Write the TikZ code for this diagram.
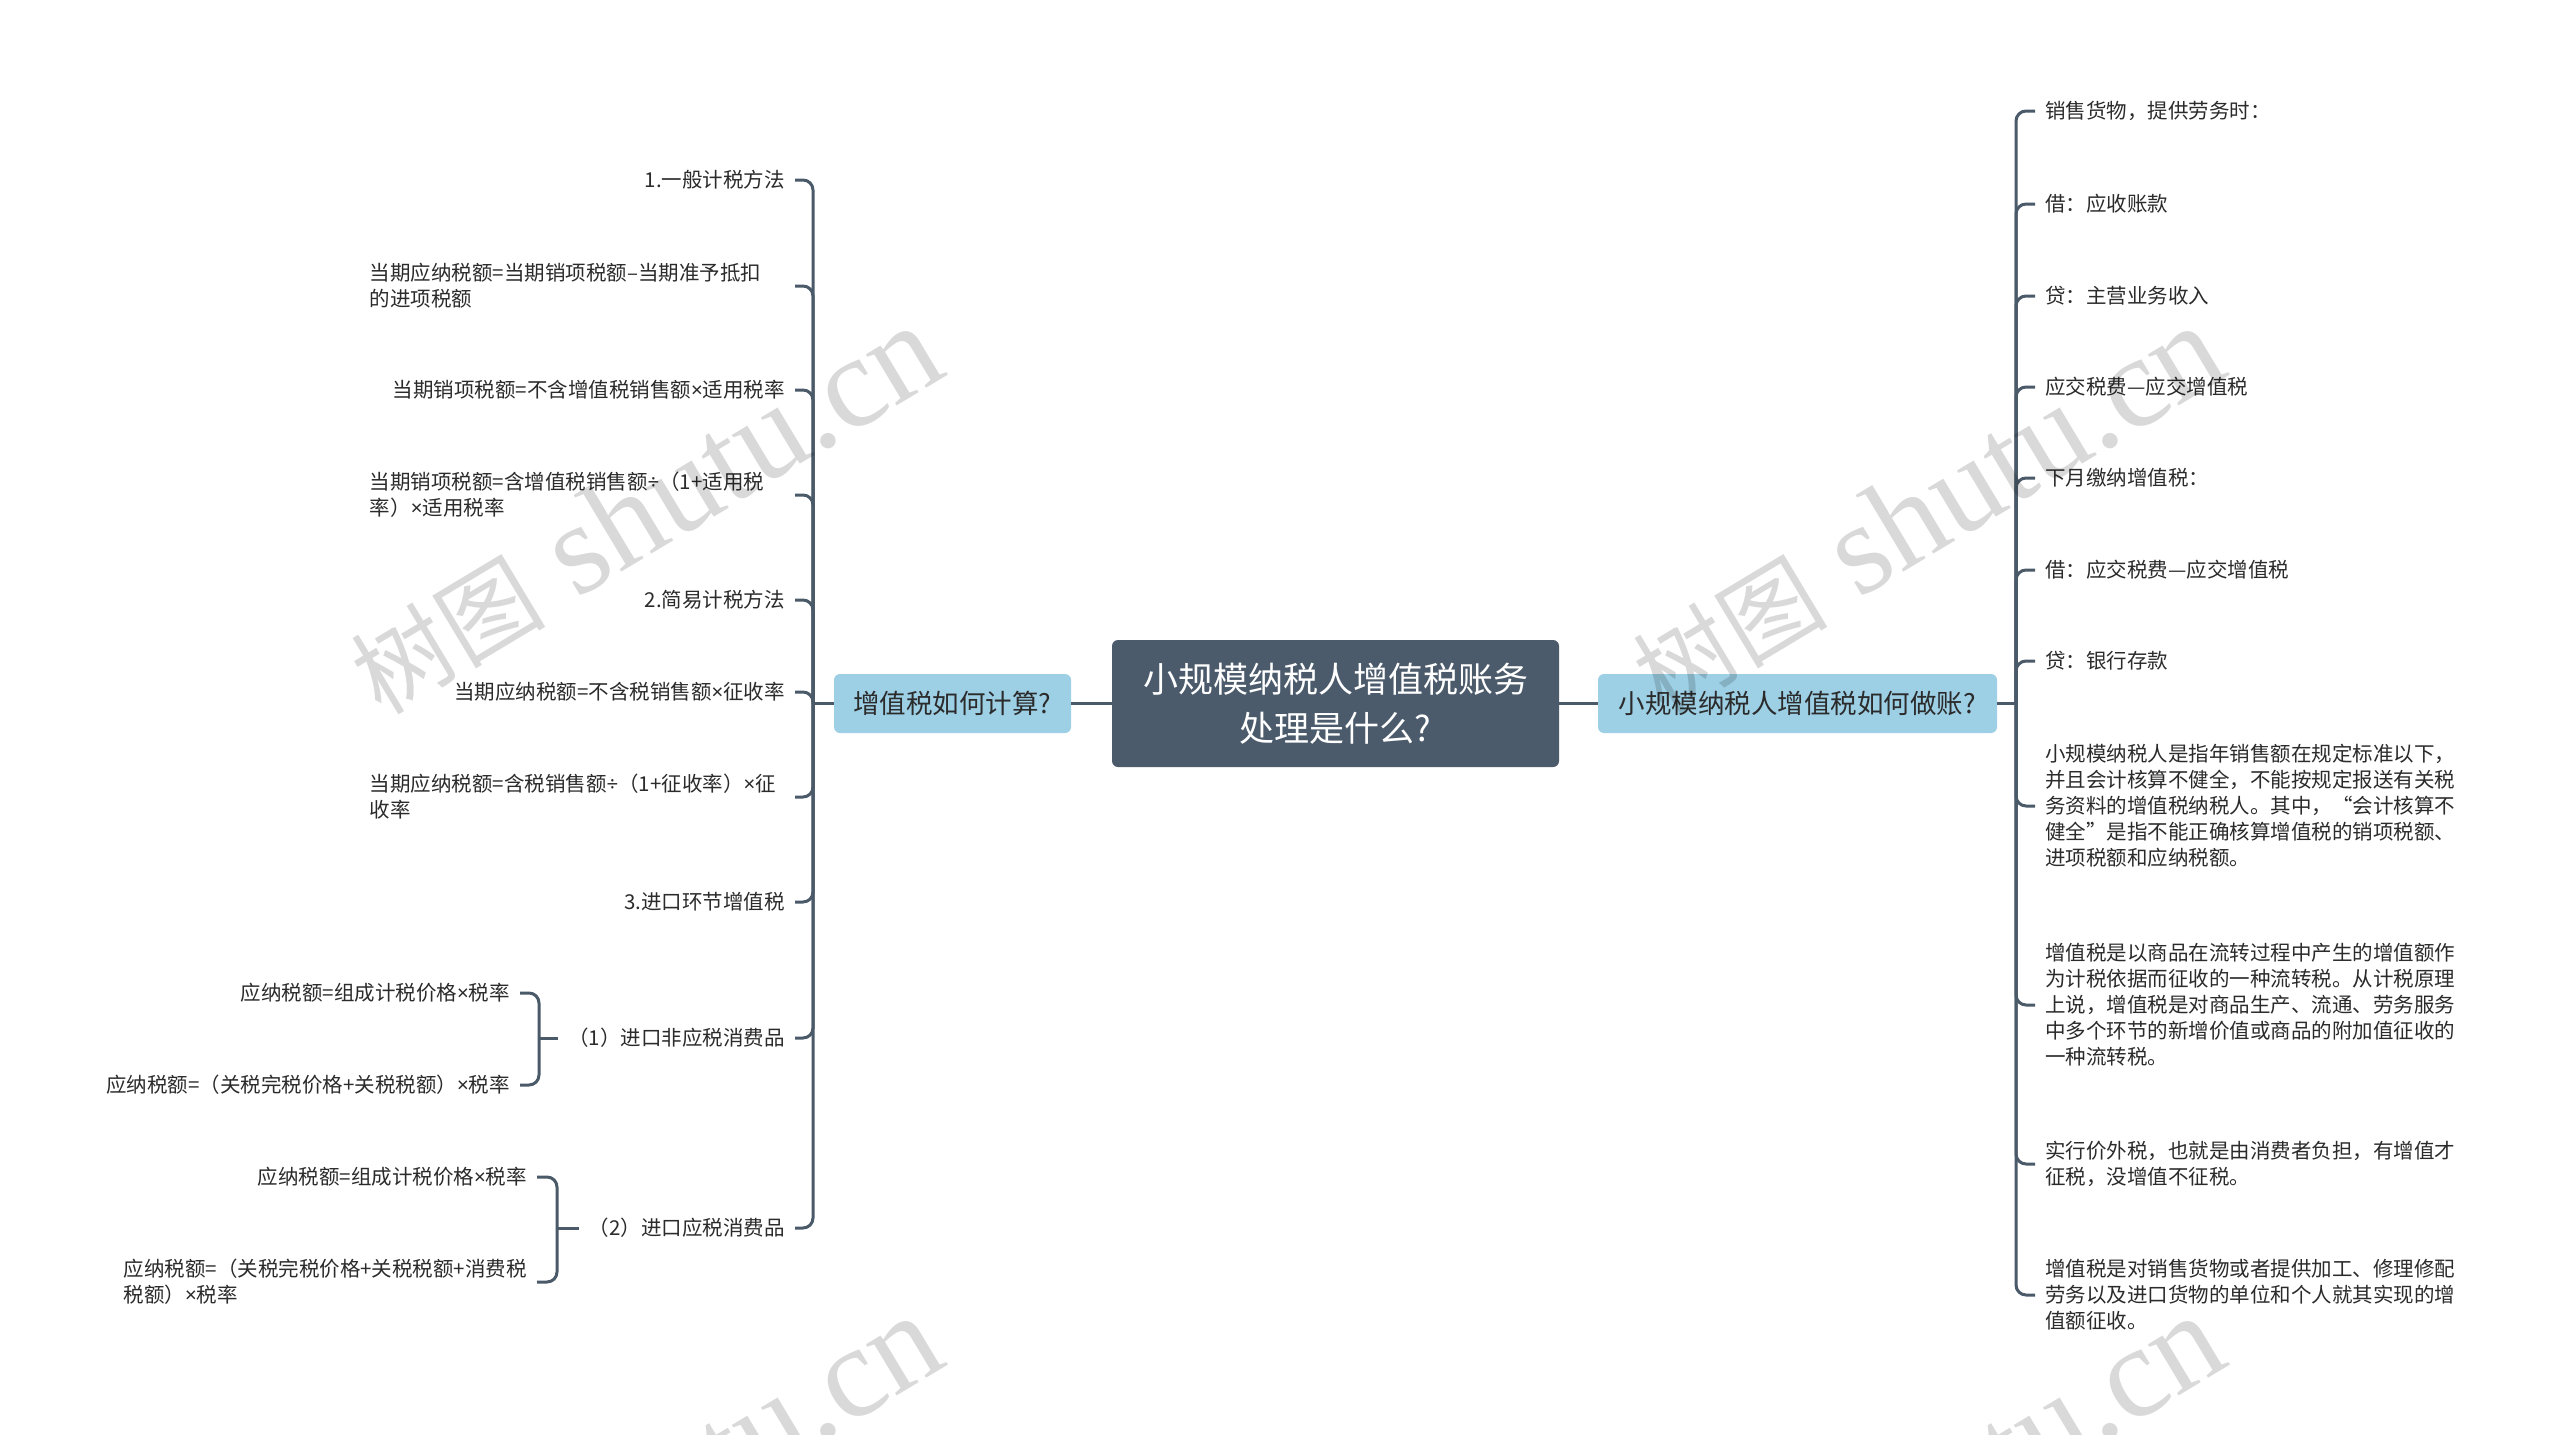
\documentclass[tikz,border=0pt]{standalone}
\usepackage{fontspec}
\setmainfont{Noto Sans CJK SC}
\newfontfamily\cjkwm{Noto Sans CJK SC}
\newfontfamily\wmserif{Liberation Serif}
\newfontfamily\latinf{Noto Sans}
\newcommand{\xmul}{{\latinf ×}}
\newcommand{\xdiv}{{\latinf ÷}}
\newcommand{\wmtext}{{\cjkwm\fontsize{97}{97}\selectfont 树图}{\wmserif\fontsize{130}{130}\selectfont\ shutu.cn}}
\definecolor{conncol}{HTML}{4B5A69}
\definecolor{maincol}{HTML}{4B5B6B}
\definecolor{lonecol}{HTML}{9DCFE5}
\definecolor{txtcol}{HTML}{2B2B2B}
\begin{document}
\begin{tikzpicture}[x=1pt,y=-1pt,
  conn/.style={draw=conncol,line width=3pt,rounded corners=10pt},
  mainbox/.style={fill=maincol,text=white,rounded corners=6pt,minimum width=447pt,minimum height=127pt,align=center,inner sep=0pt,font=\fontsize{35}{49}\selectfont},
  lone/.style={fill=lonecol,text=txtcol,rounded corners=6pt,minimum height=59pt,inner xsep=13pt,inner ysep=0pt,font=\fontsize{26.5}{32}\selectfont},
  leaf/.style={inner xsep=10pt,inner ysep=4pt,text=txtcol,font=\fontsize{20.5}{26}\selectfont},
  lleaf/.style={leaf,anchor=east,text width=415pt,align=right},
  lleafm/.style={leaf,anchor=east,text width=415pt,align=left},
  eleaf/.style={leaf,anchor=east,align=right},
  eleafm/.style={leaf,anchor=east,align=left},
  rleaf/.style={leaf,anchor=west,align=left},
  wm/.style={text=black,text opacity=0.15,inner sep=0pt}
]
\useasboundingbox (0,0) rectangle (2560,1435);
\fill[white] (0,0) rectangle (2560,1435);

% central and first-level nodes
\node[mainbox] (root) at (1335.5,703.5) {小规模纳税人增值税账务\\处理是什么?};
\node[lone,minimum width=237pt] (L) at (952.5,703.5) {增值税如何计算?};
\node[lone,minimum width=399pt] (R) at (1797.5,703.5) {小规模纳税人增值税如何做账?};

% left leaves
\node[lleaf] (l1) at (795,180) {1.一般计税方法};
\node[lleafm] (l2) at (795,286) {当期应纳税额=当期销项税额–当期准予抵扣\\的进项税额};
\node[lleaf] (l3) at (795,390) {当期销项税额=不含增值税销售额\xmul 适用税率};
\node[lleafm] (l4) at (795,495) {当期销项税额=含增值税销售额\xdiv（1+适用税\\率）\xmul 适用税率};
\node[lleaf] (l5) at (795,600) {2.简易计税方法};
\node[lleaf] (l6) at (795,692) {当期应纳税额=不含税销售额\xmul 征收率};
\node[lleafm] (l7) at (795,797) {当期应纳税额=含税销售额\xdiv（1+征收率）\xmul 征\\收率};
\node[lleaf] (l8) at (795,902) {3.进口环节增值税};
\node[eleaf] (l9) at (795,1038) {（1）进口非应税消费品};
\node[eleaf] (l10) at (795,1228) {（2）进口应税消费品};

% sub leaves
\node[eleaf] (a1) at (520,993) {应纳税额=组成计税价格\xmul 税率};
\node[eleaf] (a2) at (520,1085) {应纳税额=（关税完税价格+关税税额）\xmul 税率};
\node[eleaf] (b1) at (537,1177) {应纳税额=组成计税价格\xmul 税率};
\node[eleafm] (b2) at (537,1282) {应纳税额=（关税完税价格+关税税额+消费税\\税额）\xmul 税率};

% right leaves
\node[rleaf] (r1) at (2035,111) {销售货物，提供劳务时：};
\node[rleaf] (r2) at (2035,204) {借：应收账款};
\node[rleaf] (r3) at (2035,296) {贷：主营业务收入};
\node[rleaf] (r4) at (2035,387) {应交税费—应交增值税};
\node[rleaf] (r5) at (2035,478) {下月缴纳增值税：};
\node[rleaf] (r6) at (2035,570) {借：应交税费—应交增值税};
\node[rleaf] (r7) at (2035,661) {贷：银行存款};
\node[rleaf] (r8) at (2035,806) {小规模纳税人是指年销售额在规定标准以下，\\并且会计核算不健全，不能按规定报送有关税\\务资料的增值税纳税人。其中，“会计核算不\\健全”是指不能正确核算增值税的销项税额、\\进项税额和应纳税额。};
\node[rleaf] (r9) at (2035,1005) {增值税是以商品在流转过程中产生的增值额作\\为计税依据而征收的一种流转税。从计税原理\\上说，增值税是对商品生产、流通、劳务服务\\中多个环节的新增价值或商品的附加值征收的\\一种流转税。};
\node[rleaf] (r10) at (2035,1164) {实行价外税，也就是由消费者负担，有增值才\\征税，没增值不征税。};
\node[rleaf] (r11) at (2035,1295) {增值税是对销售货物或者提供加工、修理修配\\劳务以及进口货物的单位和个人就其实现的增\\值额征收。};

% junction points
\coordinate (sL) at (813,703.5);
\coordinate (sR) at (2016,703.5);
\coordinate (sA) at (539,1038);
\coordinate (sB) at (557,1228);

% connectors
\draw[conn] (root.west) -- (L.east);
\draw[conn] (root.east) -- (R.west);
\draw[conn] (L.west) -- (sL);
\draw[conn] (R.east) -- (sR);
\foreach \n in {l1,l2,l3,l4,l5,l6,l7,l8,l9,l10} \draw[conn] (sL) |- (\n.east);
\foreach \n in {r1,r2,r3,r4,r5,r6,r7,r8,r9,r10,r11} \draw[conn] (sR) |- (\n.west);
\draw[conn] (l9.west) -- (sA);
\draw[conn] (sA) |- (a1.east);
\draw[conn] (sA) |- (a2.east);
\draw[conn] (l10.west) -- (sB);
\draw[conn] (sB) |- (b1.east);
\draw[conn] (sB) |- (b2.east);

% watermarks
\begin{scope}
\clip (0,0) rectangle (2560,1435);
\node[wm,rotate=31] (w1) at (645,510) {\wmtext};
\node[wm,rotate=31] (w2) at (1927,510) {\wmtext};
\node[wm,rotate=31] (w3) at (645,1500) {\wmtext};
\node[wm,rotate=31] (w4) at (1927,1500) {\wmtext};
\end{scope}
\end{tikzpicture}
\end{document}
